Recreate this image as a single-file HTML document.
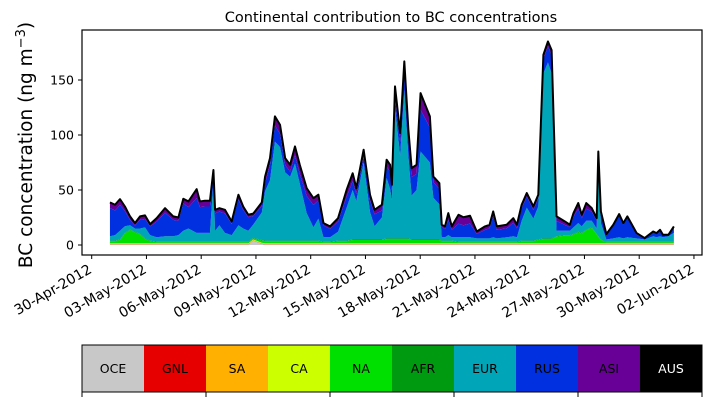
<!DOCTYPE html>
<html><head><meta charset="utf-8"><style>
body{margin:0;background:#fff;}
svg{display:block;font-family:"DejaVu Sans","Liberation Sans",sans-serif;}
</style></head><body>
<svg id="chart" width="711" height="402" viewBox="0 0 711 402">
<text x="391" y="22" font-size="14.5" text-anchor="middle">Continental contribution to BC concentrations</text>
<text transform="translate(32,145) rotate(-90)" font-size="18.5" text-anchor="middle">BC concentration (ng m<tspan baseline-shift="super" font-size="13">−3</tspan>)</text>
<g id="areas"></g>
<g id="axes"></g>
<g id="cbar"></g>
</svg>
<script>
const times=[1.0,1.28,1.55,1.82,2.1,2.37,2.65,2.92,3.2,3.56,4.02,4.47,4.75,5.02,5.3,5.75,5.93,6.2,6.48,6.67,6.76,7.0,7.3,7.67,8.04,8.3,8.58,8.85,9.32,9.5,9.77,10.04,10.32,10.6,10.87,11.14,11.4,11.78,12.15,12.42,12.7,13.06,13.5,13.97,14.3,14.5,14.9,15.25,15.5,15.9,16.16,16.35,16.45,16.62,16.9,17.13,17.35,17.53,17.8,18.02,18.53,18.72,19.05,19.18,19.36,19.54,19.73,20.1,20.37,20.73,21.1,21.55,21.8,22.0,22.2,22.74,23.1,23.3,23.56,23.84,24.2,24.47,24.75,25.0,25.2,25.47,25.93,26.2,26.4,26.66,26.85,27.1,27.4,27.67,27.76,27.9,28.2,28.58,28.9,29.13,29.35,29.86,30.3,30.77,30.95,31.14,31.3,31.6,31.9];
const oce=[0.5,0.5,0.5,0.5,0.5,0.5,0.5,0.5,0.5,0.5,0.5,0.5,0.5,0.5,0.5,0.5,0.5,0.5,0.5,0.5,0.5,0.5,0.5,0.5,0.5,0.5,0.5,4,1,0.5,0.5,0.5,0.5,0.5,0.5,0.5,0.5,0.5,0.5,0.5,0.5,0.5,0.5,0.5,0.5,0.5,0.5,0.5,0.5,0.5,0.5,0.5,0.5,0.5,0.5,0.5,0.5,0.5,0.5,0.5,0.5,0.5,0.5,0.5,0.5,0.5,0.5,0.5,0.5,0.5,0.5,0.5,0.5,0.5,0.5,0.5,0.5,0.5,0.5,0.5,0.5,0.5,0.5,0.5,0.5,0.5,0.5,0.5,0.5,0.5,0.5,0.5,0.5,0.5,0.5,0.5,0.5,0.5,0.5,0.5,0.5,0.5,0.5,0.5,0.5,0.5,0.5,0.5,0.5];
const gnl=[0.2,0.2,0.2,0.2,0.2,0.2,0.2,0.2,0.2,0.2,0.2,0.2,0.2,0.2,0.2,0.2,0.2,0.2,0.2,0.2,0.2,0.2,0.2,0.2,0.2,0.2,0.2,0.2,0.2,0.2,0.2,0.2,0.2,0.2,0.2,0.2,0.2,0.2,0.2,0.2,0.2,0.2,0.2,0.2,0.2,0.2,0.2,0.2,0.2,0.2,0.2,0.2,0.2,0.2,0.2,0.2,0.2,0.2,0.2,0.2,0.2,0.2,0.2,0.2,0.2,0.2,0.2,0.2,0.2,0.2,0.2,0.2,0.2,0.2,0.2,0.2,0.2,0.2,0.2,0.2,0.2,0.2,0.2,0.2,0.2,0.2,0.2,0.2,0.2,0.2,0.2,0.2,0.2,0.2,0.2,0.2,0.2,0.2,0.2,0.2,0.2,0.2,0.2,0.2,0.2,0.2,0.2,0.2,0.2];
const sa=[0.3,0.3,0.3,0.3,0.3,0.3,0.3,0.3,0.3,0.3,0.3,0.3,0.3,0.3,0.3,0.3,0.3,0.3,0.3,0.3,0.3,0.3,0.3,0.3,0.3,0.3,0.3,0.3,0.3,0.3,0.3,0.3,0.3,0.3,0.3,0.3,0.3,0.3,0.3,0.3,0.3,0.3,0.3,0.3,0.3,0.3,0.3,0.3,0.3,0.3,0.3,0.3,0.3,0.3,0.3,0.3,0.3,0.3,0.3,0.3,0.3,0.3,0.3,0.3,0.3,0.3,0.3,0.3,0.3,0.3,0.3,0.3,0.3,0.3,0.3,0.3,0.3,0.3,0.3,0.3,0.3,0.3,0.3,0.3,0.3,0.3,0.3,0.3,0.3,0.3,0.3,0.3,0.3,0.3,0.3,0.3,0.3,0.3,0.3,0.3,0.3,0.3,0.3,0.3,0.3,0.3,0.3,0.3,0.3];
const ca=[0.5,0.5,0.5,0.5,0.5,0.5,0.5,0.5,0.5,0.5,0.5,0.5,0.5,0.5,0.5,0.5,0.5,0.5,0.5,0.5,0.5,0.5,0.5,0.5,0.5,0.5,0.5,0.5,0.5,0.5,0.5,0.5,0.5,0.5,0.5,0.5,0.5,0.5,0.5,0.5,0.5,0.5,0.5,0.5,0.5,0.5,0.5,0.5,0.5,0.5,0.5,0.5,0.5,0.5,0.5,0.5,0.5,0.5,0.5,0.5,0.5,0.5,0.5,0.5,0.5,0.5,0.5,0.5,0.5,0.5,0.5,0.5,0.5,0.5,0.5,0.5,0.5,0.5,0.5,0.5,0.5,0.5,0.5,0.5,0.5,0.5,0.5,0.5,0.5,0.5,0.5,0.5,0.5,0.5,0.5,0.5,0.5,0.5,0.5,0.5,0.5,0.5,0.5,0.5,0.5,0.5,0.5,0.5,0.5];
const na=[2,2,3,9,12,10,8,4,2,1,1,1,1,1,1,1,1,1,1,1,1,1,1,1,1,1,1,1,2,2,2,2,2,2,2,2,2,2,2,2,1,1,2,2,3,3,3,3,3,3,4,4,4,4,4,4,4,3,3,3,3,3,3,2,2,2,2,1,1,1,1,1,1,1,1,1,1,1,2,2,2,3,4,4,4,6,7,7,8,10,9,12,14,8,6,3,1,1,1,1,1,1,1,1,1,1,1,1,1];
const afr=[0.5,0.5,0.5,0.5,0.5,0.5,0.5,0.5,0.5,0.5,0.5,0.5,0.5,0.5,0.5,0.5,0.5,0.5,0.5,0.5,0.5,0.5,0.5,0.5,0.5,0.5,0.5,0.5,0.5,0.5,0.5,0.5,0.5,0.5,0.5,0.5,0.5,0.5,0.5,0.5,0.5,0.5,0.5,0.5,0.5,0.5,0.5,0.5,0.5,0.5,0.5,0.5,0.5,0.5,0.5,0.5,0.5,0.5,0.5,0.5,0.5,0.5,0.5,0.5,0.5,0.5,0.5,0.5,0.5,0.5,0.5,0.5,0.5,0.5,0.5,0.5,0.5,0.5,0.5,0.5,0.5,0.5,0.5,0.5,0.5,0.5,0.5,0.5,0.5,0.5,0.5,0.5,0.5,0.5,0.5,0.5,0.5,0.5,0.5,0.5,0.5,0.5,0.5,0.5,0.5,0.5,0.5,0.5,0.5];
const eur=[4,5,8,6,4,3,5,10,5,4,5,5,6,10,12,8,8,8,8,55,10,15,8,6,15,12,10,12,25,45,55,90,85,62,58,70,52,25,12,20,4,4,8,30,45,35,70,25,12,20,55,45,35,120,75,135,75,40,45,80,70,38,32,3,3,5,3,4,4,4,3,3,3,4,3,4,5,4,18,30,20,30,150,160,150,5,4,4,6,8,6,8,6,5,60,15,2,3,4,3,4,3,2,5,4,5,4,5,8];
const rus=[25.5,22.4,23.5,13.8,4.8,2.7,7.8,7.7,7.8,14.2,21.3,14.8,12.8,24.8,19.4,31.6,23.4,24,24,7,15.8,12.3,17.8,10.2,23.5,16.8,12.3,7.8,5.9,7,13.8,14.7,12,6.8,4.7,7.4,8.7,15.5,20.4,16.5,10.7,7.7,9.2,10,8,6.5,5.4,10.5,10.8,6.4,10.3,15.7,8.5,8,12.5,13.7,14,16.7,14.7,37.9,31.7,14,14,9.2,7.7,13.8,6.7,12.3,11,12.4,4.1,7.7,9.2,19.3,7.7,8.2,12.2,8.2,11.4,10,7.8,7.5,12.7,14.8,16,8.8,5.2,3.2,9.8,12.9,7.3,10.9,8.3,7.2,14.8,8.3,3.7,11.2,19.9,12.7,17.8,3.6,0.6,3.6,3.1,5.1,1.6,0.6,5.2];
const asi=[5,5,5,4,3,2,3,3,2,3,4,3,3,4,5,8,5,5,5,3,3,3,3,2,4,3,2,2,3,6,6,8,8,6,6,8,8,7,6,5,2,2,3,6,7,5,6,5,4,5,6,6,5,10,8,12,10,8,8,15,10,5,5,2,2,6,3,8,7,7,2,3,3,4,3,3,4,3,3,3,3,3,4,4,5,4,3,2,3,5,3,5,3,2,2,2,1,1,1,1,1,1,0.5,0.5,0.5,0.5,0.5,0.5,0.5];
const aus=[0.2,0.2,0.2,0.2,0.2,0.2,0.2,0.2,0.2,0.2,0.2,0.2,0.2,0.2,0.2,0.2,0.2,0.2,0.2,0.2,0.2,0.2,0.2,0.2,0.2,0.2,0.2,0.2,0.2,0.2,0.2,0.2,0.2,0.2,0.2,0.2,0.2,0.2,0.2,0.2,0.2,0.2,0.2,0.2,0.2,0.2,0.2,0.2,0.2,0.2,0.2,0.2,0.2,0.2,0.2,0.2,0.2,0.2,0.2,0.2,0.2,0.2,0.2,0.2,0.2,0.2,0.2,0.2,0.2,0.2,0.2,0.2,0.2,0.2,0.2,0.2,0.2,0.2,0.2,0.2,0.2,0.2,0.2,0.2,0.2,0.2,0.2,0.2,0.2,0.2,0.2,0.2,0.2,0.2,0.2,0.2,0.2,0.2,0.2,0.2,0.2,0.2,0.2,0.2,0.2,0.2,0.2,0.2,0.2];
const regionNames=["OCE","GNL","SA","CA","NA","AFR","EUR","RUS","ASI","AUS"];
const yTicks=[0,50,100,150];
const xTickDays=[0,3,6,9,12,15,18,21,24,27,30,33];
const xTickLabels=["30-Apr-2012","03-May-2012","06-May-2012","09-May-2012","12-May-2012","15-May-2012","18-May-2012","21-May-2012","24-May-2012","27-May-2012","30-May-2012","02-Jun-2012"];

const NS="http://www.w3.org/2000/svg";
const colors=["#c8c8c8","#e60000","#ffb000","#ccff00","#00e000","#009a10","#00a5b8","#0030e0","#680098","#000000"];
const series=[oce,gnl,sa,ca,na,afr,eur,rus,asi,aus];
const L=82,R=702,T=30,B=255;
const xs=d=>91.7+d*18.25;
const ys=v=>245-v*1.1;
function mk(tag,attrs,parent){const e=document.createElementNS(NS,tag);for(const k in attrs)e.setAttribute(k,attrs[k]);parent.appendChild(e);return e;}
const areas=document.getElementById('areas');
const n=times.length;
let base=new Array(n).fill(0);
series.forEach((s,i)=>{
  const top=base.map((b,j)=>b+s[j]);
  let d="M"+times.map((t,j)=>xs(t).toFixed(2)+","+ys(top[j]).toFixed(2)).join("L");
  for(let j=n-1;j>=0;j--)d+="L"+xs(times[j]).toFixed(2)+","+ys(base[j]).toFixed(2);
  d+="Z";
  const p=mk('path',{d:d,fill:colors[i]},areas);
  
  
  base=top;
});
const tl=mk('path',{d:"M"+times.map((t,j)=>xs(t).toFixed(2)+","+ys(base[j]).toFixed(2)).join("L"),fill:"none",stroke:"#000","stroke-width":2,"stroke-linejoin":"round"},areas);



const ax=document.getElementById('axes');
const fr=mk('rect',{x:L,y:T,width:R-L,height:B-T,fill:"none",stroke:"#000","stroke-width":1.2},ax);


yTicks.forEach(v=>{
  const y=ys(v);
  mk('line',{x1:L-4,x2:L,y1:y,y2:y,stroke:"#000"},ax);
  const t=mk('text',{x:L-8,y:y+4.5,"font-size":12.5,"text-anchor":"end"},ax);
  t.textContent=v;
  
  
});
xTickDays.forEach((d,i)=>{
  const x=xs(d);
  mk('line',{x1:x,x2:x,y1:B,y2:B+4,stroke:"#000"},ax);
  const t=mk('text',{transform:`translate(${x+1},${B+17}) rotate(-30)`,"font-size":14,"text-anchor":"end"},ax);
  t.textContent=xTickLabels[i];
  
  
});
const cb=document.getElementById('cbar');
const cw=(R-L)/10;
regionNames.forEach((nm,i)=>{
  const r=mk('rect',{x:L+i*cw,y:345,width:cw+0.3,height:47,fill:colors[i]},cb);
  
  
  const t=mk('text',{x:L+i*cw+cw/2,y:373,"font-size":12.5,"text-anchor":"middle",fill:i==9?"#fff":"#000"},cb);
  t.textContent=nm;
  
  
});
mk('rect',{x:L,y:345,width:R-L,height:47,fill:"none",stroke:"#000","stroke-width":1},cb);
[0,2,4,6,8,10].forEach(k=>{mk('line',{x1:L+k*cw,x2:L+k*cw,y1:392,y2:397,stroke:"#000"},cb);});
</script>
</body></html>
